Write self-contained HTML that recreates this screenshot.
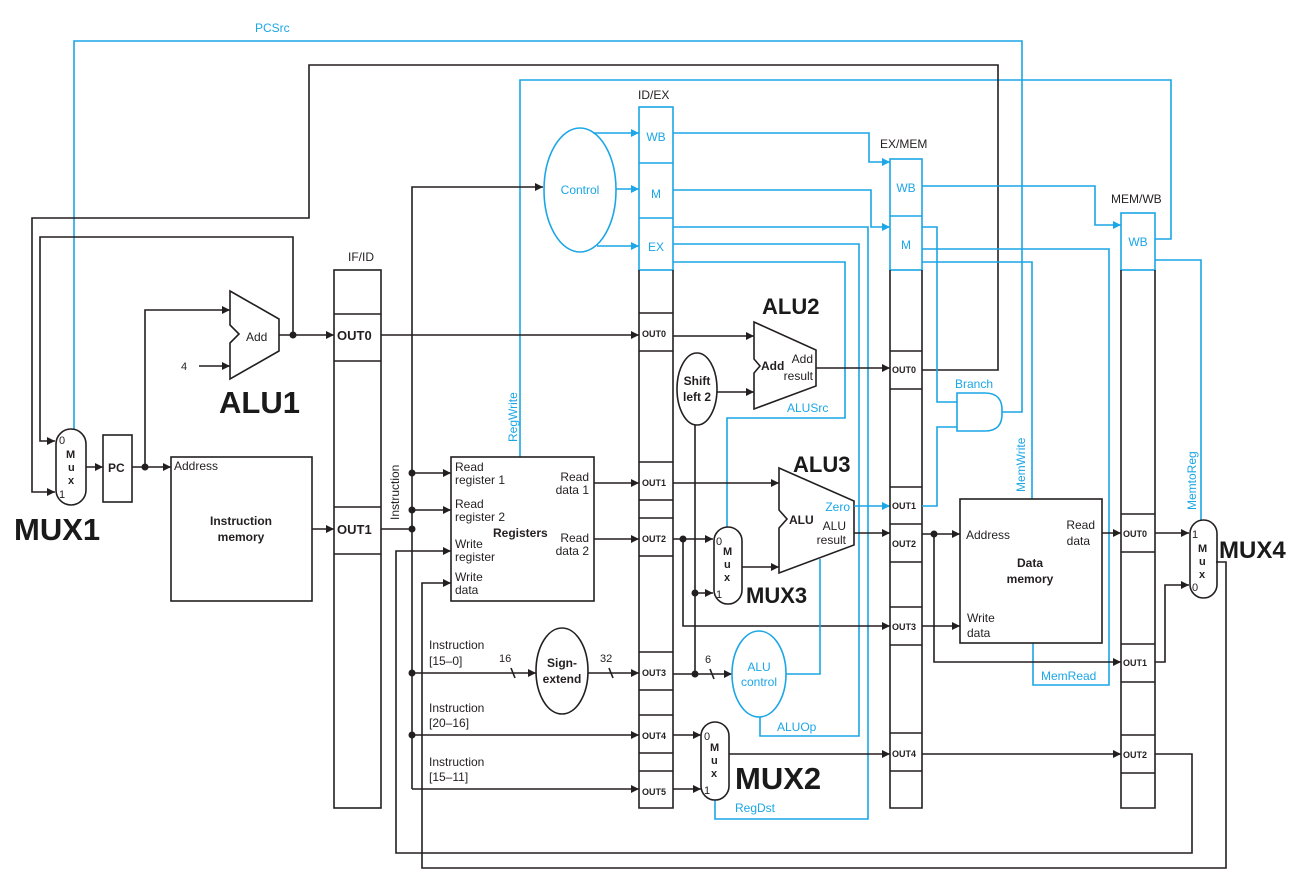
<!DOCTYPE html>
<html><head><meta charset="utf-8"><style>
html,body{margin:0;padding:0;background:#fff;}
svg{display:block;font-family:"Liberation Sans",sans-serif;}
.k{stroke:#231f20;fill:none;stroke-width:1.6}
.b{stroke:#1ba6e6;fill:none;stroke-width:1.6}
.t{font-size:12px;fill:#231f20}
.tb{font-size:12px;fill:#1ba6e6}
.o{font-size:9px;font-weight:bold;fill:#231f20}
.big{font-size:31px;font-weight:bold;fill:#1a1a1a}
.bold{font-weight:bold}
</style></head><body>
<svg width="1289" height="879" viewBox="0 0 1289 879" xmlns="http://www.w3.org/2000/svg">
<defs>
<marker id="ak" viewBox="0 0 10 10" refX="10" refY="5" markerWidth="10" markerHeight="8" markerUnits="userSpaceOnUse" orient="auto"><path d="M0,0L10,5L0,10z" fill="#231f20"/></marker>
<marker id="ab" viewBox="0 0 10 10" refX="10" refY="5" markerWidth="10" markerHeight="8" markerUnits="userSpaceOnUse" orient="auto"><path d="M0,0L10,5L0,10z" fill="#1ba6e6"/></marker>
</defs>

<!-- top labels -->
<text x="255" y="32" class="tb">PCSrc</text>
<text x="348" y="261" class="t">IF/ID</text>
<text x="638" y="99" class="t">ID/EX</text>
<text x="880" y="148" class="t">EX/MEM</text>
<text x="1111" y="203" class="t">MEM/WB</text>

<!-- blue long lines -->
<polyline class="b" points="74,430 74,41 1022,41 1022,412 1002,412"/>
<polyline class="b" points="520,457 520,80 1171,80 1171,239 1155,239"/>
<text class="tb" transform="translate(517,442) rotate(-90)">RegWrite</text>

<!-- black feedback lines -->
<polyline class="k" points="922,370 998,370 998,65 309,65 309,218 32,218 32,492 55,492" marker-end="url(#ak)"/>
<polyline class="k" points="293,335 293,237 40,237 40,441 55,441" marker-end="url(#ak)"/>

<!-- MUX1 -->
<rect x="56" y="429" width="30" height="76" rx="15" class="k" fill="#fff"/>
<text x="59" y="444" class="t" style="font-size:11px">0</text>
<text x="59" y="498" class="t" style="font-size:11px">1</text>
<text x="66" y="458" class="t bold" style="font-size:11px">M</text>
<text x="68" y="471" class="t bold" style="font-size:11px">u</text>
<text x="68" y="484" class="t bold" style="font-size:11px">x</text>
<text x="14" y="540" class="big">MUX1</text>
<line class="k" x1="86" y1="467" x2="103" y2="467" marker-end="url(#ak)"/>
<rect x="103" y="435" width="29" height="67" class="k"/>
<text x="108" y="472" class="t bold">PC</text>
<line class="k" x1="132" y1="467" x2="171" y2="467" marker-end="url(#ak)"/>
<circle cx="145" cy="467" r="3.5" fill="#231f20"/>
<polyline class="k" points="145,467 145,310 230,310" marker-end="url(#ak)"/>

<!-- ALU1 -->
<polygon class="k" points="230,291 279,319 279,351 230,379 230,343 239,334 230,325"/>
<text x="246" y="341" class="t">Add</text>
<text x="181" y="370" class="t" style="font-size:11px">4</text>
<line class="k" x1="199" y1="366" x2="230" y2="366" marker-end="url(#ak)"/>
<text x="219" y="413" class="big">ALU1</text>
<line class="k" x1="279" y1="335" x2="334" y2="335" marker-end="url(#ak)"/>
<circle cx="293" cy="335" r="3.5" fill="#231f20"/>

<!-- Instruction memory -->
<rect x="171" y="457" width="141" height="144" class="k"/>
<text x="174" y="470" class="t">Address</text>
<text x="241" y="525" class="t bold" text-anchor="middle">Instruction</text>
<text x="241" y="541" class="t bold" text-anchor="middle">memory</text>
<line class="k" x1="312" y1="529" x2="334" y2="529" marker-end="url(#ak)"/>

<!-- IF/ID -->
<rect x="334" y="270" width="47" height="538" class="k"/>
<line class="k" x1="334" y1="314" x2="381" y2="314"/><line class="k" x1="334" y1="361" x2="381" y2="361"/>
<line class="k" x1="334" y1="507" x2="381" y2="507"/><line class="k" x1="334" y1="554" x2="381" y2="554"/>
<text x="337" y="340" class="t bold" style="font-size:13px">OUT0</text>
<text x="337" y="534" class="t bold" style="font-size:13px">OUT1</text>
<line class="k" x1="381" y1="335" x2="639" y2="335" marker-end="url(#ak)"/>

<!-- instruction bus -->
<polyline class="k" points="381,529 412,529"/>
<polyline class="k" points="412,789 412,187 543,187" marker-end="url(#ak)"/>
<text class="t" transform="translate(399,520) rotate(-90)">Instruction</text>
<g fill="#231f20"><circle cx="412" cy="473" r="3.5"/><circle cx="412" cy="510" r="3.5"/><circle cx="412" cy="529" r="3.5"/><circle cx="412" cy="673" r="3.5"/><circle cx="412" cy="735" r="3.5"/></g>
<line class="k" x1="412" y1="473" x2="451" y2="473" marker-end="url(#ak)"/>
<line class="k" x1="412" y1="510" x2="451" y2="510" marker-end="url(#ak)"/>
<polyline class="k" points="1155,754 1192,754 1192,853 396,853 396,551 451,551" marker-end="url(#ak)"/>
<polyline class="k" points="1216,562 1226,562 1226,868 422,868 422,583 451,583" marker-end="url(#ak)"/>

<!-- Registers -->
<rect x="451" y="457" width="143" height="144" class="k" fill="none"/>
<g class="t"><text x="455" y="471">Read</text><text x="455" y="484">register 1</text>
<text x="455" y="508">Read</text><text x="455" y="521">register 2</text>
<text x="455" y="548">Write</text><text x="455" y="561">register</text>
<text x="455" y="581">Write</text><text x="455" y="594">data</text>
<text x="589" y="481" text-anchor="end">Read</text><text x="589" y="494" text-anchor="end">data 1</text>
<text x="589" y="542" text-anchor="end">Read</text><text x="589" y="555" text-anchor="end">data 2</text>
<text x="493" y="537" class="bold">Registers</text></g>
<line class="k" x1="594" y1="483" x2="639" y2="483" marker-end="url(#ak)"/>
<line class="k" x1="594" y1="539" x2="639" y2="539" marker-end="url(#ak)"/>

<!-- Instruction fields -->
<g class="t"><text x="429" y="649">Instruction</text><text x="429" y="665">[15–0]</text>
<text x="429" y="712">Instruction</text><text x="429" y="727">[20–16]</text>
<text x="429" y="766">Instruction</text><text x="429" y="781">[15–11]</text>
<text x="499" y="662" style="font-size:11px">16</text><text x="600" y="662" style="font-size:11px">32</text></g>
<line class="k" x1="412" y1="673" x2="536" y2="673" marker-end="url(#ak)"/>
<line class="k" x1="511" y1="668" x2="515" y2="678"/><line class="k" x1="609" y1="668" x2="613" y2="678"/>
<ellipse cx="562" cy="671" rx="26" ry="43" class="k"/>
<text x="562" y="667" class="t bold" text-anchor="middle">Sign-</text>
<text x="562" y="683" class="t bold" text-anchor="middle">extend</text>
<line class="k" x1="588" y1="673" x2="639" y2="673" marker-end="url(#ak)"/>
<line class="k" x1="412" y1="735" x2="639" y2="735" marker-end="url(#ak)"/>
<line class="k" x1="412" y1="789" x2="639" y2="789" marker-end="url(#ak)"/>

<!-- Control -->
<ellipse cx="580" cy="190" rx="36" ry="62" class="b"/>
<text x="580" y="194" class="tb" text-anchor="middle">Control</text>
<line class="b" x1="593" y1="133" x2="639" y2="133" marker-end="url(#ab)"/>
<line class="b" x1="616" y1="189" x2="639" y2="189" marker-end="url(#ab)"/>
<line class="b" x1="597" y1="246" x2="639" y2="246" marker-end="url(#ab)"/>

<!-- ID/EX -->
<rect x="639" y="107" width="34" height="163" class="b"/>
<line class="b" x1="639" y1="163" x2="673" y2="163"/><line class="b" x1="639" y1="218" x2="673" y2="218"/>
<text x="656" y="141" class="tb" text-anchor="middle">WB</text>
<text x="656" y="198" class="tb" text-anchor="middle">M</text>
<text x="656" y="251" class="tb" text-anchor="middle">EX</text>
<polyline class="k" points="639,270 639,808 673,808 673,270"/>
<g class="k"><line x1="639" y1="313" x2="673" y2="313"/><line x1="639" y1="351" x2="673" y2="351"/>
<line x1="639" y1="462" x2="673" y2="462"/><line x1="639" y1="500" x2="673" y2="500"/>
<line x1="639" y1="518" x2="673" y2="518"/><line x1="639" y1="556" x2="673" y2="556"/>
<line x1="639" y1="652" x2="673" y2="652"/><line x1="639" y1="690" x2="673" y2="690"/>
<line x1="639" y1="715" x2="673" y2="715"/><line x1="639" y1="753" x2="673" y2="753"/>
<line x1="639" y1="771" x2="673" y2="771"/></g>
<g class="o"><text x="642" y="337">OUT0</text><text x="642" y="486">OUT1</text><text x="642" y="542">OUT2</text><text x="642" y="676">OUT3</text><text x="642" y="739">OUT4</text><text x="642" y="795">OUT5</text></g>

<!-- control wires from ID/EX -->
<polyline class="b" points="673,133 869,133 869,162 890,162" marker-end="url(#ab)"/>
<polyline class="b" points="673,190 871,190 871,227 890,227" marker-end="url(#ab)"/>
<polyline class="b" points="673,227 868,227 868,819 715,819 715,800"/>
<polyline class="b" points="673,244 859,244 859,736 760,736 760,717"/>
<polyline class="b" points="673,262 845,262 845,418 727,418 727,527"/>
<text x="787" y="412" class="tb">ALUSrc</text>
<text x="777" y="731" class="tb">ALUOp</text>
<text x="735" y="812" class="tb">RegDst</text>

<!-- ALU2 -->
<text x="762" y="314" class="big" style="font-size:22px">ALU2</text>
<line class="k" x1="673" y1="336" x2="754" y2="336" marker-end="url(#ak)"/>
<polygon class="k" points="754,322 816,350 816,386 754,409 754,373 760,366 754,359"/>
<text x="761" y="370" class="t bold">Add</text>
<text x="813" y="363" class="t" text-anchor="end">Add</text>
<text x="813" y="380" class="t" text-anchor="end">result</text>
<line class="k" x1="816" y1="368" x2="890" y2="368" marker-end="url(#ak)"/>
<ellipse cx="697" cy="389" rx="20" ry="36" class="k"/>
<text x="697" y="385" class="t bold" text-anchor="middle">Shift</text>
<text x="697" y="401" class="t bold" text-anchor="middle">left 2</text>
<line class="k" x1="717" y1="392" x2="754" y2="392" marker-end="url(#ak)"/>
<line class="k" x1="695" y1="425" x2="695" y2="674"/>

<!-- ALU3 -->
<text x="793" y="472" class="big" style="font-size:22px">ALU3</text>
<line class="k" x1="673" y1="483" x2="779" y2="483" marker-end="url(#ak)"/>
<polygon class="k" points="779,468 854,501 854,545 779,573 779,528 787,519 779,510"/>
<text x="789" y="524" class="t bold">ALU</text>
<text x="850" y="511" class="tb" text-anchor="end">Zero</text>
<text x="846" y="530" class="t" text-anchor="end">ALU</text>
<text x="846" y="544" class="t" text-anchor="end">result</text>
<line class="b" x1="854" y1="506" x2="890" y2="506" marker-end="url(#ab)"/>
<line class="k" x1="854" y1="533" x2="890" y2="533" marker-end="url(#ak)"/>
<line class="k" x1="673" y1="539" x2="713" y2="539" marker-end="url(#ak)"/>
<circle cx="683" cy="539" r="3.5" fill="#231f20"/>
<polyline class="k" points="683,539 683,626 890,626" marker-end="url(#ak)"/>
<line class="k" x1="695" y1="593" x2="713" y2="593" marker-end="url(#ak)"/>
<circle cx="695" cy="593" r="3.5" fill="#231f20"/>
<rect x="714" y="527" width="28" height="77" rx="14" class="k" fill="#fff"/>
<text x="716" y="545" class="t" style="font-size:11px">0</text><text x="716" y="598" class="t" style="font-size:11px">1</text>
<text x="723" y="555" class="t bold" style="font-size:11px">M</text><text x="724" y="568" class="t bold" style="font-size:11px">u</text><text x="724" y="581" class="t bold" style="font-size:11px">x</text>
<text x="746" y="603" class="big" style="font-size:22px">MUX3</text>
<line class="k" x1="742" y1="567" x2="779" y2="567" marker-end="url(#ak)"/>

<!-- ALU control -->
<line class="k" x1="673" y1="674" x2="732" y2="674" marker-end="url(#ak)"/>
<circle cx="695" cy="674" r="3.5" fill="#231f20"/>
<line class="k" x1="710" y1="669" x2="714" y2="679"/>
<text x="705" y="663" class="t" style="font-size:11px">6</text>
<ellipse cx="759" cy="674" rx="27" ry="43" class="b"/>
<text x="759" y="671" class="tb" text-anchor="middle">ALU</text>
<text x="759" y="686" class="tb" text-anchor="middle">control</text>
<polyline class="b" points="786,674 820,674 820,559"/>

<!-- MUX2 -->
<line class="k" x1="673" y1="735" x2="701" y2="735" marker-end="url(#ak)"/>
<line class="k" x1="673" y1="789" x2="701" y2="789" marker-end="url(#ak)"/>
<rect x="701" y="722" width="28" height="78" rx="14" class="k" fill="#fff"/>
<text x="704" y="740" class="t" style="font-size:11px">0</text><text x="704" y="794" class="t" style="font-size:11px">1</text>
<text x="710" y="751" class="t bold" style="font-size:11px">M</text><text x="711" y="764" class="t bold" style="font-size:11px">u</text><text x="711" y="777" class="t bold" style="font-size:11px">x</text>
<text x="735" y="789" class="big">MUX2</text>
<line class="k" x1="729" y1="754" x2="890" y2="754" marker-end="url(#ak)"/>

<!-- EX/MEM -->
<rect x="890" y="159" width="32" height="111" class="b"/>
<line class="b" x1="890" y1="216" x2="922" y2="216"/>
<text x="906" y="192" class="tb" text-anchor="middle">WB</text>
<text x="906" y="249" class="tb" text-anchor="middle">M</text>
<polyline class="k" points="890,270 890,808 922,808 922,270"/>
<g class="k"><line x1="890" y1="351" x2="922" y2="351"/><line x1="890" y1="389" x2="922" y2="389"/>
<line x1="890" y1="487" x2="922" y2="487"/><line x1="890" y1="524" x2="922" y2="524"/><line x1="890" y1="562" x2="922" y2="562"/>
<line x1="890" y1="607" x2="922" y2="607"/><line x1="890" y1="645" x2="922" y2="645"/>
<line x1="890" y1="733" x2="922" y2="733"/><line x1="890" y1="771" x2="922" y2="771"/></g>
<g class="o"><text x="892" y="373">OUT0</text><text x="892" y="509">OUT1</text><text x="892" y="547">OUT2</text><text x="892" y="630">OUT3</text><text x="892" y="757">OUT4</text></g>

<polyline class="b" points="922,186 1095,186 1095,225 1121,225" marker-end="url(#ab)"/>
<polyline class="b" points="922,227 937,227 937,402 957,402"/>
<polyline class="b" points="922,506 937,506 937,427 957,427"/>
<polyline class="b" points="922,249 1109,249 1109,685 1033,685 1033,643"/>
<polyline class="b" points="922,262 1032,262 1032,499"/>
<text x="955" y="388" class="tb">Branch</text>
<path class="b" d="M957,393 L985,393 Q1003,393 1002,412 Q1003,431 985,431 L957,431 Z"/>
<text class="tb" transform="translate(1025,492) rotate(-90)">MemWrite</text>
<text x="1041" y="680" class="tb">MemRead</text>

<!-- Data memory -->
<rect x="960" y="499" width="142" height="144" class="k"/>
<text x="966" y="539" class="t">Address</text>
<text x="1095" y="529" class="t" text-anchor="end">Read</text><text x="1090" y="545" class="t" text-anchor="end">data</text>
<text x="1030" y="567" class="t bold" text-anchor="middle">Data</text><text x="1030" y="583" class="t bold" text-anchor="middle">memory</text>
<text x="967" y="622" class="t">Write</text><text x="967" y="637" class="t">data</text>
<line class="k" x1="922" y1="534" x2="960" y2="534" marker-end="url(#ak)"/>
<circle cx="934" cy="534" r="3.5" fill="#231f20"/>
<polyline class="k" points="934,534 934,662 1121,662" marker-end="url(#ak)"/>
<line class="k" x1="922" y1="626" x2="960" y2="626" marker-end="url(#ak)"/>
<line class="k" x1="1102" y1="533" x2="1121" y2="533" marker-end="url(#ak)"/>
<line class="k" x1="922" y1="754" x2="1121" y2="754" marker-end="url(#ak)"/>

<!-- MEM/WB -->
<rect x="1121" y="213" width="34" height="57" class="b"/>
<text x="1138" y="246" class="tb" text-anchor="middle">WB</text>
<polyline class="k" points="1121,270 1121,808 1155,808 1155,270"/>
<g class="k"><line x1="1121" y1="514" x2="1155" y2="514"/><line x1="1121" y1="552" x2="1155" y2="552"/>
<line x1="1121" y1="644" x2="1155" y2="644"/><line x1="1121" y1="682" x2="1155" y2="682"/>
<line x1="1121" y1="735" x2="1155" y2="735"/><line x1="1121" y1="773" x2="1155" y2="773"/></g>
<g class="o"><text x="1123" y="537">OUT0</text><text x="1123" y="666">OUT1</text><text x="1123" y="758">OUT2</text></g>
<polyline class="b" points="1155,260 1201,260 1201,520"/>
<text class="tb" transform="translate(1196,510) rotate(-90)">MemtoReg</text>

<!-- MUX4 -->
<line class="k" x1="1155" y1="533" x2="1189" y2="533" marker-end="url(#ak)"/>
<polyline class="k" points="1155,662 1165,662 1165,585 1189,585" marker-end="url(#ak)"/>
<rect x="1190" y="520" width="27" height="78" rx="13.5" class="k" fill="#fff"/>
<text x="1192" y="538" class="t" style="font-size:11px">1</text><text x="1192" y="591" class="t" style="font-size:11px">0</text>
<text x="1198" y="552" class="t bold" style="font-size:11px">M</text><text x="1199" y="565" class="t bold" style="font-size:11px">u</text><text x="1199" y="578" class="t bold" style="font-size:11px">x</text>
<text x="1219" y="558" class="big" style="font-size:24px">MUX4</text>
</svg>
</body></html>
